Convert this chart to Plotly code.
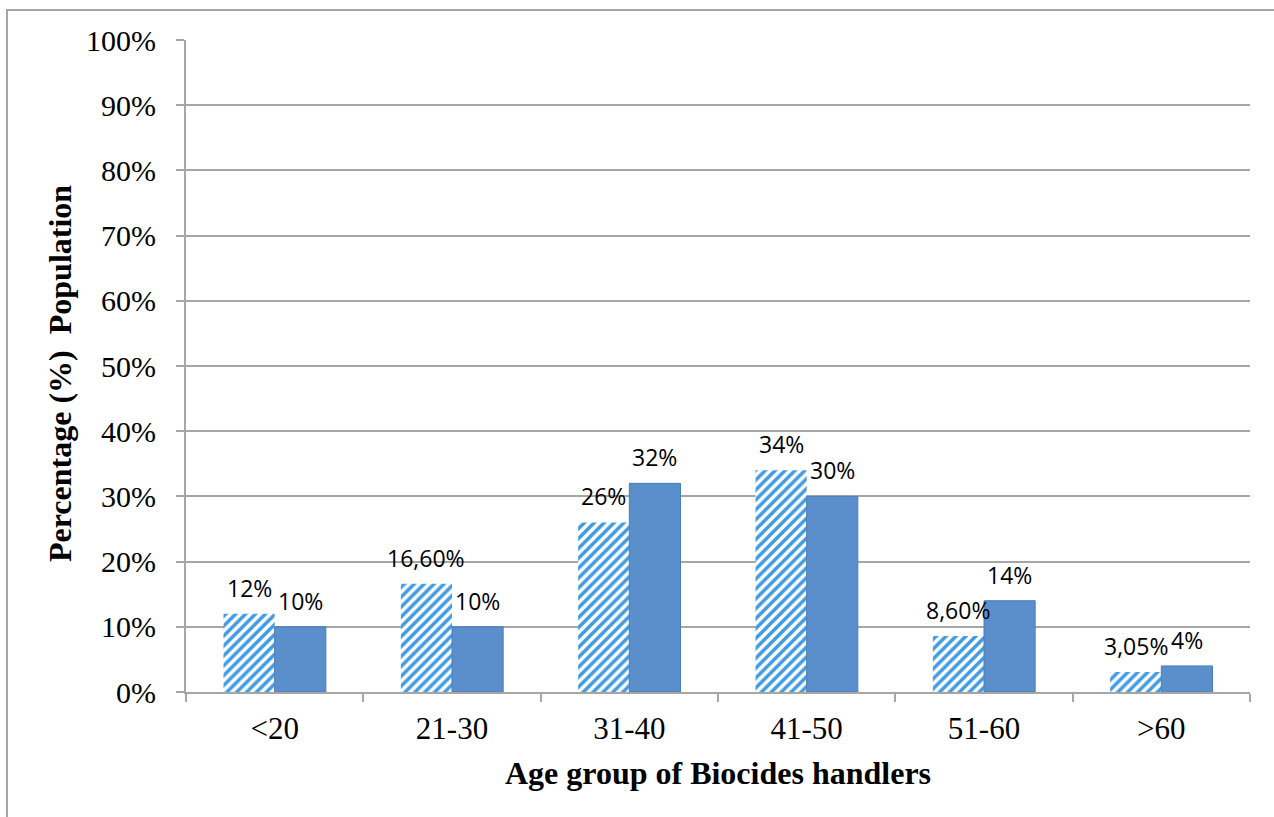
import plotly.graph_objects as go

# Age groups and share of handlers (%) in two surveyed groups
age_groups = ["<20", "21-30", "31-40", "41-50", "51-60", ">60"]
group_a = [12, 16.6, 26, 34, 8.6, 3.05]   # hatched bars
group_b = [10, 10, 32, 30, 14, 4]         # solid bars
y_ticks = [0, 10, 20, 30, 40, 50, 60, 70, 80, 90, 100]


def pct_label(v):
    # integers shown plain, others with two decimals and a decimal comma
    if float(v).is_integer():
        return f"{int(v)}%"
    return f"{v:.2f}".replace(".", ",") + "%"


W, H = 1274, 817
ML, MR, MT, MB = 186, 24, 40, 125
GRID = "#A6A6A6"
HATCH = "#419BE2"
SOLID = "#5B8FCB"

fig = go.Figure()
fig.add_trace(go.Bar(
    x=age_groups, y=group_a,
    marker=dict(color=HATCH, line=dict(width=0),
                pattern=dict(shape="/", fgcolor=HATCH, bgcolor="white",
                             fgopacity=1, size=7, solidity=0.5,
                             fillmode="replace")),
    hoverinfo="skip", showlegend=False,
))
fig.add_trace(go.Bar(
    x=age_groups, y=group_b,
    marker=dict(color=SOLID, line=dict(color="#4A7EBB", width=1)),
    hoverinfo="skip", showlegend=False,
))

# value labels above each bar
n = len(age_groups)
plot_w = W - ML - MR
plot_h = H - MT - MB
cat_w = plot_w / n
bar_w = cat_w * (1 - 0.423) / 2
annotations = []
for i, cat in enumerate(age_groups):
    for vals, dx in ((group_a, -bar_w / 2), (group_b, bar_w / 2)):
        annotations.append(dict(
            x=cat, y=vals[i], xref="x", yref="y",
            text=pct_label(vals[i]), showarrow=False,
            xanchor="center", yanchor="middle",
            xshift=dx, yshift=26,
            font=dict(family="Open Sans", size=23, color="black"),
        ))

px = lambda p: (p - ML) / plot_w
py = lambda p: 1 - (p - MT) / plot_h

# y-axis title, placed by hand
annotations.append(dict(
    x=px(60), y=py(374), xref="paper", yref="paper",
    text="<b>Percentage (%)  Population</b>", textangle=-90, showarrow=False,
    xanchor="center", yanchor="middle",
    font=dict(family="Liberation Serif", size=32, color="black"),
))

# outer chart frame, partly running past the page edge
shapes = [dict(type="rect", xref="paper", yref="paper",
               x0=px(7), x1=px(W + 20), y0=py(H + 20), y1=py(10),
               line=dict(color=GRID, width=2), layer="below")]

fig.update_layout(
    width=W, height=H,
    margin=dict(l=ML, r=MR, t=MT, b=MB),
    paper_bgcolor="white", plot_bgcolor="white",
    barmode="group", bargap=0.423, bargroupgap=0,
    annotations=annotations, shapes=shapes,
    font=dict(family="Liberation Serif", color="black"),
)
fig.update_xaxes(
    type="category", showline=True, linecolor=GRID, linewidth=2,
    ticks="outside", tickson="boundaries", ticklen=8, tickcolor=GRID, tickwidth=2,
    tickfont=dict(family="Liberation Serif", size=31, color="black"),
    ticklabelstandoff=8,
    title=dict(text="<b>Age group of Biocides handlers</b>",
               font=dict(family="Liberation Serif", size=32, color="black"),
               standoff=16),
    showgrid=False,
)
fig.update_yaxes(
    range=[0, 100], tickvals=y_ticks, ticktext=[f"{t}%" for t in y_ticks],
    showline=True, linecolor=GRID, linewidth=2,
    ticks="outside", ticklen=8, tickcolor=GRID, tickwidth=2,
    showgrid=True, gridcolor=GRID, gridwidth=1.5,
    tickfont=dict(family="Liberation Serif", size=30, color="black"),
    ticklabelstandoff=14,
    zeroline=False,
)

fig.write_html("out.html")
